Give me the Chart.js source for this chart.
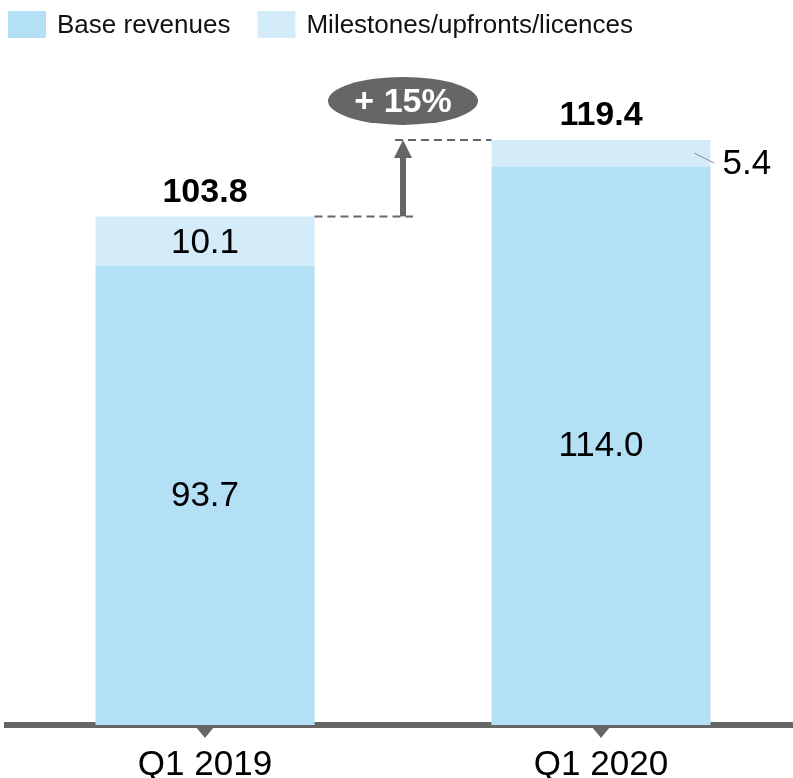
<!DOCTYPE html>
<html lang="en">
<head>
<meta charset="UTF-8">
<title>Revenues Q1 2019 vs Q1 2020</title>
<style>
    html, body { margin: 0; padding: 0; background: #fff; overflow: hidden; }
    .chart-box { width: 806px; height: 805px; }
</style>
</head>
<body>

<div class="chart-box"><canvas id="revChart" width="806" height="805"></canvas></div>

<script src="https://cdn.jsdelivr.net/npm/chart.js"></script>
<script>
    // chart data
    const quarters = ['Q1 2019', 'Q1 2020'];
    const baseRevenues = [93.7, 114.0];
    const milestones = [10.1, 5.4];
    const totals = [103.8, 119.4];
    const seriesNames = ['Base revenues', 'Milestones/upfronts/licences'];
    const seriesColors = ['#b3e0f5', '#d4ecf9'];

    const FONT = "'Liberation Sans', Arial, Helvetica, sans-serif";
    const GREY = '#666666';

    // labels, growth arrow, axis ticks and legend
    const overlay = {
        id: 'overlay',
        afterDraw(chart) {
            const ctx = chart.ctx;
            const baseMeta = chart.getDatasetMeta(0);
            const topMeta = chart.getDatasetMeta(1);
            const xScale = chart.scales.x;
            const axisY = xScale.top;

            ctx.save();

            // little triangles under the axis line
            ctx.fillStyle = GREY;
            quarters.forEach((q, i) => {
                const x = xScale.getPixelForTick(i);
                ctx.beginPath();
                ctx.moveTo(x - 9, axisY + 2);
                ctx.lineTo(x + 9, axisY + 2);
                ctx.lineTo(x, axisY + 13);
                ctx.closePath();
                ctx.fill();
            });

            // values inside the bars
            ctx.fillStyle = '#000';
            ctx.textAlign = 'center';
            ctx.textBaseline = 'middle';
            ctx.font = '35px ' + FONT;
            baseMeta.data.forEach((bar, i) => {
                ctx.fillText(baseRevenues[i].toFixed(1), bar.x, (bar.y + bar.base) / 2 + 1);
            });
            topMeta.data.forEach((bar, i) => {
                const h = bar.base - bar.y;
                const mid = (bar.y + bar.base) / 2;
                if (h > 40) {
                    ctx.fillText(milestones[i].toFixed(1), bar.x, mid + 2);
                } else {
                    // too thin: put it outside with a leader line
                    const right = bar.x + bar.width / 2;
                    ctx.strokeStyle = '#8a8a8a';
                    ctx.lineWidth = 1;
                    ctx.beginPath();
                    ctx.moveTo(right - 16, mid);
                    ctx.lineTo(right + 4, mid + 10);
                    ctx.stroke();
                    ctx.textAlign = 'left';
                    ctx.fillText(milestones[i].toFixed(1), right + 12, mid + 11);
                    ctx.textAlign = 'center';
                }
            });

            // totals on top
            ctx.font = 'bold 34px ' + FONT;
            topMeta.data.forEach((bar, i) => {
                ctx.fillText(totals[i].toFixed(1), bar.x, bar.y - 24);
            });

            // growth arrow between the bars
            const b0 = topMeta.data[0], b1 = topMeta.data[1];
            const leftEdge = b0.x + b0.width / 2;
            const rightEdge = b1.x - b1.width / 2;
            const ax = (leftEdge + rightEdge) / 2;
            const y0 = b0.y, y1 = b1.y;

            ctx.strokeStyle = GREY;
            ctx.lineWidth = 2;
            ctx.setLineDash([8, 5]);
            ctx.beginPath();
            ctx.moveTo(leftEdge, y0);
            ctx.lineTo(ax + 10, y0);
            ctx.moveTo(ax - 8, y1);
            ctx.lineTo(rightEdge, y1);
            ctx.stroke();
            ctx.setLineDash([]);

            ctx.fillStyle = GREY;
            ctx.fillRect(ax - 3, y1 + 16, 6, y0 - y1 - 16);
            ctx.beginPath();
            ctx.moveTo(ax - 9, y1 + 18);
            ctx.lineTo(ax + 9, y1 + 18);
            ctx.lineTo(ax, y1);
            ctx.closePath();
            ctx.fill();

            const growth = Math.round((totals[1] / totals[0] - 1) * 100);
            ctx.beginPath();
            ctx.ellipse(ax, y1 - 39, 75, 24, 0, 0, Math.PI * 2);
            ctx.fill();
            ctx.fillStyle = '#fff';
            ctx.font = 'bold 34px ' + FONT;
            ctx.fillText('+ ' + growth + '%', ax, y1 - 37);

            // legend
            let lx = 8;
            ctx.textAlign = 'left';
            ctx.font = '26px ' + FONT;
            chart.data.datasets.forEach((ds) => {
                ctx.fillStyle = ds.backgroundColor;
                ctx.fillRect(lx, 11, 38, 27);
                ctx.fillStyle = '#111';
                ctx.fillText(ds.label, lx + 49, 26);
                lx += 49 + ctx.measureText(ds.label).width + 27;
            });

            ctx.restore();
        }
    };

    const ctx = document.getElementById('revChart').getContext('2d');
    const revChart = new Chart(ctx, {
        type: 'bar',
        data: {
            labels: quarters,
            datasets: [
                { label: seriesNames[0], data: baseRevenues, backgroundColor: seriesColors[0] },
                { label: seriesNames[1], data: milestones, backgroundColor: seriesColors[1] }
            ]
        },
        options: {
            responsive: false,
            animation: false,
            layout: { padding: { top: 39, left: 7, right: 7, bottom: 0 } },
            categoryPercentage: 1,
            barPercentage: 0.553,
            plugins: {
                legend: { display: false },
                tooltip: { enabled: false }
            },
            scales: {
                x: {
                    stacked: true,
                    z: 1,
                    grid: { display: false, drawTicks: false },
                    border: { display: true, color: GREY, width: 6 },
                    ticks: {
                        color: '#000',
                        padding: 19,
                        font: { family: FONT, size: 35 }
                    }
                },
                y: {
                    stacked: true,
                    display: false,
                    min: 0,
                    max: 140
                }
            }
        },
        plugins: [overlay]
    });
</script>

</body>
</html>
